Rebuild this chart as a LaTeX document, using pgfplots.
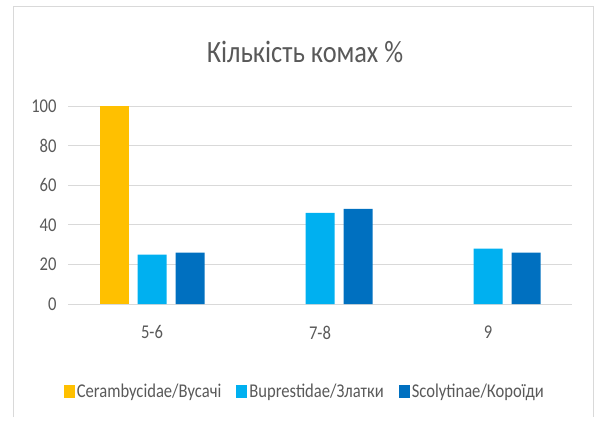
\documentclass[border=0pt]{standalone}
\usepackage{fontspec}
\setmainfont{Carlito}[FakeStretch=0.85]
\usepackage{pgfplots}
\pgfplotsset{compat=1.18}
\definecolor{cyel}{HTML}{FFC000}
\definecolor{clight}{HTML}{00B0F0}
\definecolor{cdark}{HTML}{0070C0}
\definecolor{labelgray}{HTML}{595959}
\definecolor{gridgray}{HTML}{D9D9D9}
\begin{document}
\begin{tikzpicture}
\path[use as bounding box] (-68bp,-121bp) rectangle (528bp,304bp);
\draw[color=gridgray, line width=0.8bp] (-55bp,-113bp) -- (-55bp,298bp) -- (525bp,298bp) -- (525bp,-113bp);
\node[font=\fontsize{31bp}{34bp}\selectfont, text=labelgray] at (237bp,252bp) {Кількість комах \%};
\begin{axis}[
  scale only axis, width=504bp, height=198bp,
  at={(0,0)}, anchor=south west,
  ymin=0, ymax=100, ytick={0,20,...,100},
  xmin=-0.5, xmax=2.5, xtick={0,1,2}, xticklabels={5-6,7-8,9},
  ybar=9bp, bar width=29bp,
  axis line style={draw=none},
  ymajorgrids, grid style={draw=gridgray, line width=0.8bp},
  tick style={draw=none},
  ticklabel style={font=\fontsize{19.5bp}{20bp}\selectfont, text=labelgray},
  yticklabel style={xshift=-8bp},
  xticklabel style={yshift=-14bp},
  /pgf/number format/assume math mode=true,
  legend columns=3,
  legend style={draw=none, fill=none, at={(0.470,-0.444)}, anchor=center,
    font=\fontsize{19.5bp}{20bp}\selectfont, text=labelgray,
    /tikz/every even column/.append style={column sep=13bp}},
  legend image code/.code={\fill[#1] (0bp,-6bp) rectangle (11bp,7bp);},
]
\addplot[fill=cyel, draw=none] coordinates {(0,100)};
\addplot[fill=clight, draw=none] coordinates {(0,25) (1,46) (2,28)};
\addplot[fill=cdark, draw=none] coordinates {(0,26) (1,48) (2,26)};
\legend{Cerambycidae/Вусачі, Buprestidae/Златки, Scolytinae/Короїди}
\end{axis}
\end{tikzpicture}
\end{document}
